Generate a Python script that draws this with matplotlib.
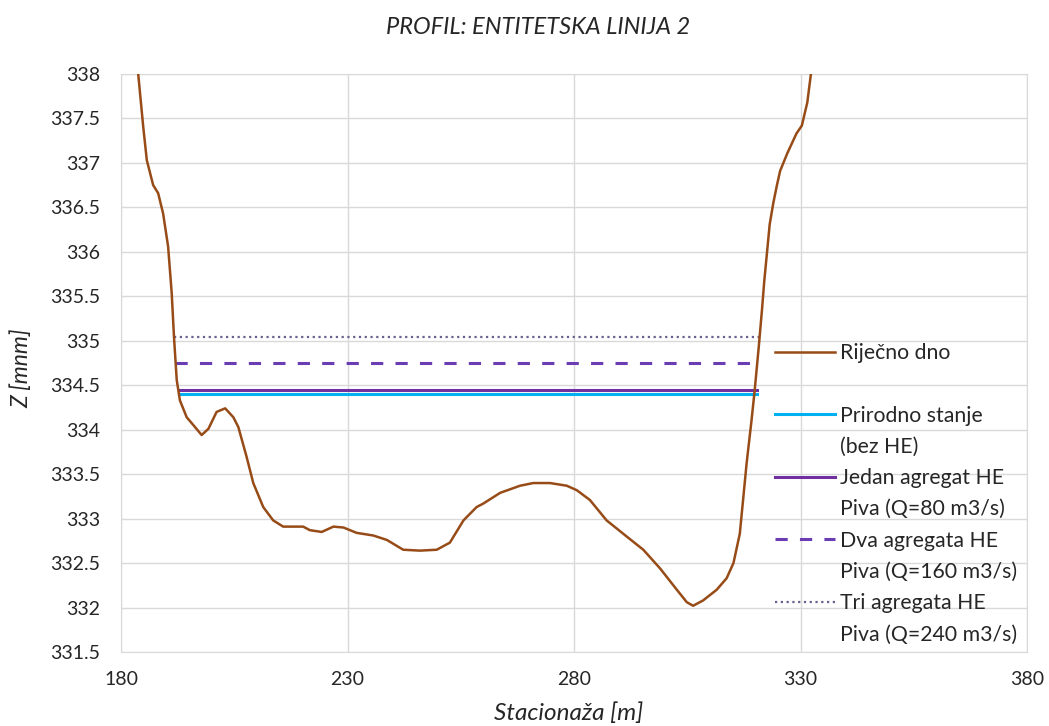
import numpy as np
import matplotlib.pyplot as plt
from matplotlib.lines import Line2D
from matplotlib.ticker import FuncFormatter, MultipleLocator

plt.rcParams['font.family'] = ['Lato', 'DejaVu Sans']

# riverbed profile (stationing [m], elevation [mnm])
stacionaza = [183.8, 184.9, 185.7, 187.1, 188.2, 189.3, 190.4, 191.2, 191.7, 192.3,
              193.0, 194.5, 196.0, 197.8, 199.3, 201.1, 203.0, 204.8, 205.9, 207.7,
              209.2, 211.4, 213.6, 215.8, 220.2, 221.7, 224.3, 226.9, 229.1, 232.0,
              235.7, 238.7, 242.3, 246.0, 249.7, 252.6, 255.6, 258.5, 260.0, 263.7,
              268.1, 271.0, 274.7, 278.4, 280.6, 283.5, 287.2, 291.6, 295.3, 299.0,
              302.7, 304.9, 306.3, 308.5, 311.5, 313.7, 315.2, 316.6, 317.4, 318.1,
              319.2, 319.9, 320.8, 321.5, 322.0, 322.6, 323.2, 324.0, 324.8, 325.5,
              327.1, 329.1, 330.3, 331.5, 332.3]
dno = [338.0, 337.41, 337.03, 336.75, 336.66, 336.43, 336.06, 335.53, 335.04, 334.56,
       334.33, 334.14, 334.05, 333.94, 334.01, 334.20, 334.24, 334.14, 334.03, 333.70,
       333.40, 333.13, 332.98, 332.91, 332.91, 332.87, 332.85, 332.91, 332.90, 332.84,
       332.81, 332.76, 332.65, 332.64, 332.65, 332.73, 332.98, 333.13, 333.17, 333.29,
       333.37, 333.40, 333.40, 333.37, 333.32, 333.21, 332.98, 332.80, 332.65, 332.44,
       332.20, 332.06, 332.02, 332.08, 332.20, 332.33, 332.50, 332.83, 333.25, 333.62,
       334.11, 334.45, 334.94, 335.35, 335.67, 335.99, 336.31, 336.55, 336.75, 336.91,
       337.11, 337.33, 337.42, 337.68, 338.0]

# water levels: left / right stationing and elevation
prirodno_x = [192.9, 320.4]
prirodno_z = 334.40
jedan_x = [192.8, 320.4]
jedan_z = 334.45
dva_x = [192.0, 320.7]
dva_z = 334.75
tri_x = [191.7, 321.0]
tri_z = 335.04

x_ticks = [180, 230, 280, 330, 380]

fig = plt.figure(figsize=(10.49, 7.26), dpi=100)
ax = fig.add_axes([121/1049, 1 - 652/726, (1027-121)/1049, (652-74)/726])

l_dno, = ax.plot(stacionaza, dno, color='#974B17', lw=1.8, zorder=5)
l_pr, = ax.plot(prirodno_x, [prirodno_z]*2, color='#00B0F0', lw=2.2, zorder=3)
l_je, = ax.plot(jedan_x, [jedan_z]*2, color='#7030A0', lw=2.2, zorder=3)
l_dv, = ax.plot(dva_x, [dva_z]*2, color='#6A3DB5', lw=2.2, dashes=(4, 4), zorder=3)
l_tr, = ax.plot(tri_x, [tri_z]*2, color='#6B5F8F', lw=1.6, linestyle=(0, (1, 1.6)), zorder=3)

ax.set_xlim(180, 380)
ax.set_ylim(331.5, 338)
ax.set_xticks(x_ticks)
ax.yaxis.set_major_locator(MultipleLocator(0.5))
ax.yaxis.set_major_formatter(FuncFormatter(lambda v, p: f'{v:g}'))
ax.grid(True, color='#D9D9D9', lw=1)
ax.set_axisbelow(True)
for s in ax.spines.values():
    s.set_color('#D9D9D9')
ax.tick_params(length=0, labelsize=14)
ax.tick_params(axis='y', pad=15)
ax.tick_params(axis='x', pad=14)
for lab in ax.get_xticklabels() + ax.get_yticklabels():
    lab.set_color('#262626')

blank = Line2D([], [], color='none')
handles = [l_dno, blank, l_pr, blank, l_je, blank, l_dv, blank, l_tr, blank]
labels = ['Riječno dno', ' ', 'Prirodno stanje', '(bez HE)', 'Jedan agregat HE',
          'Piva (Q=80 m3/s)', 'Dva agregata HE', 'Piva (Q=160 m3/s)',
          'Tri agregata HE', 'Piva (Q=240 m3/s)']
leg = ax.legend(handles, labels, loc='upper left', bbox_to_anchor=(775/1049, 1 - 343/726),
                bbox_transform=fig.transFigure, frameon=False, fontsize=15.3,
                handlelength=2.8, handletextpad=0.25, labelspacing=0.53,
                borderpad=0, borderaxespad=0)
for t in leg.get_texts():
    t.set_color('#262626')

fig.text(538/1049, 1 - 28/726, 'PROFIL: ENTITETSKA LINIJA 2', ha='center', va='center',
         fontsize=17, style='italic', color='#262626')
fig.text(569/1049, 1 - 713/726, 'Stacionaža [m]', ha='center', va='center',
         fontsize=17.5, style='italic', color='#262626')
fig.text(21/1049, 1 - 368/726, 'Z [mnm]', ha='center', va='center', rotation=90,
         fontsize=16.5, style='italic', color='#262626')

fig.savefig('out.png', dpi=100)
